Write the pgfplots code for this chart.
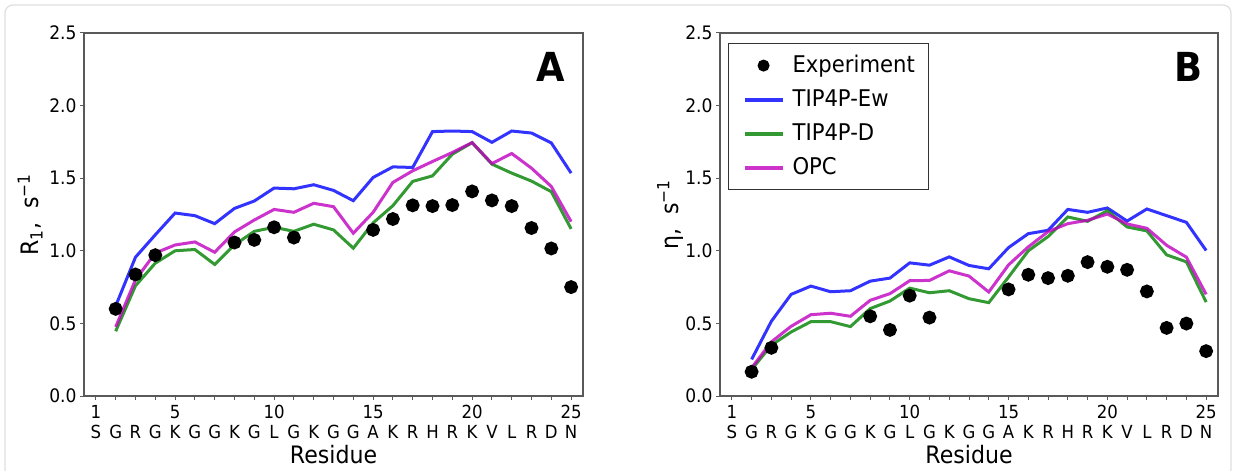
\documentclass[border=0pt]{standalone}
\usepackage{pgfplots}
\pgfplotsset{compat=1.18}
\usepackage{pgfplotstable}
\usepackage{fontspec}
\setmainfont{DejaVu Sans}[FakeStretch=0.92]

\pgfplotstableread{
x ew d opc
2 0.62 0.446 0.476
3 0.956 0.759 0.80
4 1.11 0.915 0.985
5 1.26 1.0 1.04
6 1.242 1.009 1.061
7 1.187 0.906 0.99
8 1.292 1.041 1.13
9 1.343 1.134 1.212
10 1.432 1.162 1.285
11 1.427 1.134 1.265
12 1.455 1.183 1.327
13 1.416 1.144 1.304
14 1.345 1.018 1.121
15 1.505 1.192 1.265
16 1.578 1.311 1.471
17 1.574 1.478 1.551
18 1.821 1.516 1.615
19 1.825 1.665 1.677
20 1.821 1.745 1.745
21 1.747 1.597 1.601
22 1.825 1.535 1.67
23 1.811 1.48 1.569
24 1.743 1.407 1.443
25 1.535 1.151 1.201
}\dataA

\pgfplotstableread{
x y
2 0.60
3 0.837
4 0.97
8 1.057
9 1.075
10 1.162
11 1.091
15 1.144
16 1.219
17 1.313
18 1.308
19 1.315
20 1.409
21 1.347
22 1.308
23 1.157
24 1.016
25 0.750
}\expA

\pgfplotstableread{
x ew d opc
2 0.252 0.183 0.194
3 0.515 0.35 0.373
4 0.70 0.441 0.48
5 0.757 0.512 0.56
6 0.718 0.512 0.57
7 0.725 0.478 0.549
8 0.791 0.602 0.659
9 0.812 0.654 0.705
10 0.917 0.743 0.794
11 0.901 0.711 0.796
12 0.958 0.725 0.862
13 0.899 0.67 0.826
14 0.876 0.643 0.716
15 1.022 0.819 0.903
16 1.118 1.0 1.027
17 1.141 1.098 1.132
18 1.285 1.233 1.187
19 1.265 1.203 1.21
20 1.295 1.276 1.253
21 1.205 1.164 1.185
22 1.288 1.137 1.155
23 1.242 0.972 1.038
24 1.196 0.924 0.956
25 1.002 0.647 0.70
}\dataB

\pgfplotstableread{
x y
2 0.167
3 0.332
8 0.549
9 0.455
10 0.691
11 0.54
15 0.734
16 0.835
17 0.812
18 0.828
19 0.922
20 0.89
21 0.869
22 0.72
23 0.469
24 0.499
25 0.309
}\expB

\newcommand\rl[2]{\strut#1\\\strut#2}

\definecolor{cblue}{rgb}{0,0,1}
\definecolor{cgreen}{rgb}{0,0.5,0}
\definecolor{cmag}{rgb}{0.75,0,0.75}

\pgfplotsset{
  lineleg/.style={legend image code/.code={\draw[##1, line width=2bp] (0bp,0bp) -- (19bp,0bp);}},
  markleg/.style={legend image code/.code={\draw[mark repeat=2, mark phase=2, ##1] plot coordinates {(0bp,0bp) (9.5bp,0bp) (19bp,0bp)};}},
  myax/.style={
    scale only axis,
    width=249.5bp, height=181.5bp,
    xmin=0.4, xmax=25.6, ymin=0, ymax=2.5,
    xtick={1,...,25},
    xticklabels={\rl{1}{S},\rl{}{G},\rl{}{R},\rl{}{G},\rl{5}{K},\rl{}{G},\rl{}{G},\rl{}{K},\rl{}{G},\rl{10}{L},\rl{}{G},\rl{}{K},\rl{}{G},\rl{}{G},\rl{15}{A},\rl{}{K},\rl{}{R},\rl{}{H},\rl{}{R},\rl{20}{K},\rl{}{V},\rl{}{L},\rl{}{R},\rl{}{D},\rl{25}{N}},
    ytick={0,0.5,1,1.5,2,2.5},
    yticklabels={0.0,0.5,1.0,1.5,2.0,2.5},
    xtick pos=bottom, ytick pos=left,
    tick align=outside,
    major tick length=2bp,
    every tick/.style={black!65, line width=0.5bp},
    axis line style={black!65, line width=0.6bp},
    xticklabel style={align=center, font=\fontsize{9bp}{10bp}\selectfont, inner sep=1.5bp},
    yticklabel style={font=\fontsize{9.3bp}{10bp}\selectfont, inner sep=1bp},
    xlabel={Residue},
    xlabel style={at={(axis description cs:0.5,-0.1846)}, anchor=base, font=\fontsize{12bp}{14bp}\selectfont},
    ylabel style={anchor=center, font=\fontsize{12bp}{14bp}\selectfont},
    line width=1.5bp,
    legend cell align=left,
  },
}

\begin{document}
\begin{tikzpicture}
\useasboundingbox (0,0) rectangle (619bp,235.5bp);
\draw[black!13, line width=0.6bp, rounded corners=4bp] (2.5bp,-5bp) -- (2.5bp,233bp) -- (615.5bp,233bp) -- (615.5bp,-5bp);

\begin{axis}[myax, at={(42bp,37.5bp)}, anchor=south west,
  ylabel={R\textsubscript{1},\ \ s\textsuperscript{−1}},
  ylabel style={at={(axis description cs:-0.108,0.5)}}]
\addplot[cblue, opacity=0.8] table[x=x,y=ew] {\dataA};
\addplot[cgreen, opacity=0.8] table[x=x,y=d] {\dataA};
\addplot[cmag, opacity=0.8] table[x=x,y=opc] {\dataA};
\addplot[only marks, mark=*, mark size=2.7bp, black] table[x=x,y=y] {\expA};
\node[font=\fontsize{20bp}{24bp}\selectfont\bfseries] at (rel axis cs:0.936,0.906) {A};
\end{axis}

\begin{axis}[myax, at={(360bp,37.5bp)}, anchor=south west, width=249bp,
  ylabel={η,\ \ s\textsuperscript{−1}},
  ylabel style={at={(axis description cs:-0.1,0.5)}},
  legend style={at={(rel axis cs:0.016,0.9725)}, anchor=north west,
    draw=black!80, line width=0.6bp, inner xsep=7bp, inner ysep=5bp,
    font=\fontsize{11.5bp}{13bp}\selectfont,
    row sep=5bp,
    nodes={inner sep=0bp, text height=9.5bp, text depth=2.5bp},
    /tikz/every odd column/.append style={column sep=4bp}}]
\addlegendimage{only marks, mark=*, mark size=2.7bp, black, markleg}
\addlegendentry{Experiment}
\addplot[cblue, opacity=0.8, lineleg] table[x=x,y=ew] {\dataB};
\addlegendentry{TIP4P-Ew}
\addplot[cgreen, opacity=0.8, lineleg] table[x=x,y=d] {\dataB};
\addlegendentry{TIP4P-D}
\addplot[cmag, opacity=0.8, lineleg] table[x=x,y=opc] {\dataB};
\addlegendentry{OPC}
\addplot[only marks, mark=*, mark size=2.7bp, black, forget plot] table[x=x,y=y] {\expB};
\node[font=\fontsize{20bp}{24bp}\selectfont\bfseries] at (rel axis cs:0.94,0.906) {B};
\end{axis}
\end{tikzpicture}
\end{document}
